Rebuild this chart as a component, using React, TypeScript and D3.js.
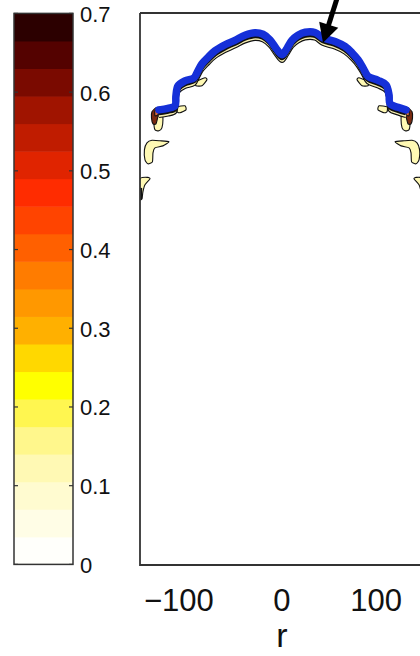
import React from "react";
import * as d3 from "d3";

// ---- data ----
const cbarTicks = [0, 0.1, 0.2, 0.3, 0.4, 0.5, 0.6, 0.7];
const levelStep = 0.035;
const levelColors = [
  "#fffffb", "#fffde6", "#fffbd0", "#fff9b4", "#fff78c", "#fff650", "#ffff00",
  "#ffd800", "#ffb000", "#ff9800", "#ff7c00", "#ff6000", "#ff4400", "#ff2c00",
  "#e02400", "#c01c00", "#a01400", "#7a0a00", "#540200", "#2c0000",
];
const xTicks = [-100, 0, 100];

// contour front (r, z)
const archR = [-130.9, -121.3, -113.8, -112.8, -110.6, -103.2, -93.6, -89.4, -85.1, -78.7, -71.3, -60.6, -50.0, -39.4, -28.7, -20.2, -12.8, -5.9, 0, 5.3, 10.6, 17.0, 24.5, 35.1, 43.6, 56.4, 67.0, 74.5, 80.9, 86.2, 91.5, 102.1, 110.6, 113.8, 114.9, 123.4, 131.9];
const archZ = [484.0, 485.6, 488.3, 498.9, 509.6, 514.9, 518.1, 525.5, 533.0, 539.9, 546.8, 553.2, 558.0, 563.3, 566.0, 564.4, 558.5, 548.9, 542.6, 549.5, 558.0, 563.3, 566.5, 566.3, 560.6, 556.7, 551.4, 544.7, 537.2, 528.7, 519.7, 515.4, 510.6, 500.0, 490.4, 486.7, 484.0];

// filled patches on the left side (mirrored to the right)
const patchBrownR = [-138.3, -134.0, -128.7, -128.7, -131.9, -134.0, -137.2, -138.8];
const patchBrownZ = [481.9, 486.2, 486.7, 481.9, 476.6, 469.1, 469.1, 475.5];
const patchOrangeR = [-135.1, -130.9, -131.9, -135.1];
const patchOrangeZ = [483.0, 484.0, 478.7, 477.7];
const patchTailR = [-135.1, -127.7, -126.6, -127.7, -130.9, -135.1, -136.2];
const patchTailZ = [479.8, 481.9, 473.4, 464.9, 461.7, 462.8, 471.3];
const patchStep1R = [-111.7, -103.2, -102.1, -108.5, -111.7];
const patchStep1Z = [487.2, 488.3, 484.0, 480.9, 481.9];
const patchStep2R = [-91.5, -81.9, -79.8, -85.1, -91.5];
const patchStep2Z = [513.8, 518.1, 516.0, 509.6, 509.6];
const patchBoomR = [-143.6, -138.3, -129.8, -120.2, -126.6, -135.1, -137.2, -137.8, -142.6, -145.7, -146.3];
const patchBoomZ = [448.9, 451.6, 451.1, 450.0, 445.7, 443.6, 438.3, 428.7, 426.6, 430.9, 441.5];
const patchEdgeR = [-151, -142.6, -140.4, -145.7, -147.9, -148.9, -151];
const patchEdgeZ = [410.6, 412.2, 410.6, 404.3, 396.8, 389.4, 389.4];

const arrowStart = [59.6, 606];
const arrowTip = [43.6, 555.3];

export default function App() {
  const W = 420, H = 656;
  const x = d3.scaleLinear().domain([-151, 151]).range([140, 424]);
  const y = d3.scaleLinear().domain([0, 587]).range([565, 13]);
  const cy = d3.scaleLinear().domain([0, 0.7]).range([564.4, 13.4]);
  const cbL = 14, cbR = 73;

  const line = d3.line<[number, number]>().x((d) => x(d[0])).y((d) => y(d[1])).curve(d3.curveCatmullRom.alpha(0.5));
  const poly = d3.line<[number, number]>().x((d) => x(d[0])).y((d) => y(d[1])).curve(d3.curveCardinalClosed.tension(0.4));
  const zip = (rs: number[], zs: number[], m = 1) => rs.map((r, i) => [r * m, zs[i]] as [number, number]);
  const arch = zip(archR, archZ);

  const patches = [
    { r: patchTailR, z: patchTailZ, fill: levelColors[3] },
    { r: patchBrownR, z: patchBrownZ, fill: "#7a2a10" },
    { r: patchOrangeR, z: patchOrangeZ, fill: "#d86a3a" },
    { r: patchStep1R, z: patchStep1Z, fill: levelColors[3] },
    { r: patchStep2R, z: patchStep2Z, fill: levelColors[3] },
    { r: patchBoomR, z: patchBoomZ, fill: levelColors[3] },
    { r: patchEdgeR, z: patchEdgeZ, fill: levelColors[3] },
  ];

  // arrow
  const ax0 = x(arrowStart[0]), ay0 = y(arrowStart[1]);
  const ax1 = x(arrowTip[0]), ay1 = y(arrowTip[1]);
  const dx = ax1 - ax0, dy = ay1 - ay0, len = Math.hypot(dx, dy);
  const ux = dx / len, uy = dy / len;
  const headL = 19, headW = 10;
  const bx = ax1 - ux * headL, by = ay1 - uy * headL;
  const head = `M${ax1},${ay1}L${bx - uy * headW},${by + ux * headW}L${bx + uy * headW},${by - ux * headW}Z`;

  const font = "'Liberation Sans', Arial, Helvetica, sans-serif";

  return (
    <svg width={W} height={H} style={{ position: "absolute", left: 0, top: 0, background: "#fff" }}>
      <defs>
        <clipPath id="plotclip">
          <rect x={140} y={13} width={284} height={552} />
        </clipPath>
      </defs>
      {/* colorbar */}
      {levelColors.map((c, i) => (
        <rect key={i} x={cbL} y={cy((i + 1) * levelStep)} width={cbR - cbL}
          height={cy(i * levelStep) - cy((i + 1) * levelStep) + 0.5} fill={c} />
      ))}
      <rect x={cbL} y={cy(0.7)} width={cbR - cbL} height={cy(0) - cy(0.7)} fill="none" stroke="#333" strokeWidth={1.5} />
      {cbarTicks.map((t) => (
        <g key={t}>
          <line x1={cbL} x2={cbL + 4} y1={cy(t)} y2={cy(t)} stroke="#333" strokeWidth={1.2} />
          <line x1={cbR - 4} x2={cbR} y1={cy(t)} y2={cy(t)} stroke="#333" strokeWidth={1.2} />
          <text x={80} y={cy(t) + 8.5} fontFamily={font} fontSize={22} fill="#111">{String(t)}</text>
        </g>
      ))}

      {/* plot */}
      <g clipPath="url(#plotclip)">
        {[1, -1].map((m) => (
          <g key={m}>
            {patches.map((p, i) => (
              <path key={i} d={poly(zip(p.r, p.z, m)) || ""} fill={p.fill} stroke="#111" strokeWidth={1.1} />
            ))}
            <line x1={x(-150 * m)} x2={x(-150 * m)} y1={y(401)} y2={y(389)} stroke="#111" strokeWidth={2.5} />
          </g>
        ))}
        <path d={line(arch) || ""} transform="translate(0,6)" fill="none" stroke="#111" strokeWidth={4.5} strokeLinejoin="round" />
        <path d={line(arch) || ""} transform="translate(0,6)" fill="none" stroke="#f6eeb0" strokeWidth={2.2} strokeLinejoin="round" />
        <path d={line(arch) || ""} transform="translate(0,2.5)" fill="none" stroke="#111" strokeWidth={6} strokeLinejoin="round" />
        <path d={line(arch) || ""} fill="none" stroke="#1530d8" strokeWidth={7.5} strokeLinejoin="round" strokeLinecap="round" />
      </g>
      <path d={`M${x(-151)},${y(587)}H${x(151)}M${x(-151)},${y(587)}V${y(0)}H${x(151)}`} fill="none" stroke="#333" strokeWidth={1.8} />

      {/* x ticks */}
      {xTicks.map((t) => {
        const s = t < 0 ? "\u2212" + Math.abs(t) : String(t);
        const nd = String(Math.abs(t)).length;
        return (
          <text key={t} x={x(t) + (nd * 0.556 * 31) / 2} y={611} textAnchor="end" fontFamily={font} fontSize={31} fill="#111">{s}</text>
        );
      })}
      <text x={x(0)} y={647} textAnchor="middle" fontFamily={font} fontSize={34} fill="#111">r</text>

      {/* arrow */}
      <line x1={ax0} y1={ay0} x2={bx + ux * 2} y2={by + uy * 2} stroke="#000" strokeWidth={5} />
      <path d={head} fill="#000" />
    </svg>
  );
}
